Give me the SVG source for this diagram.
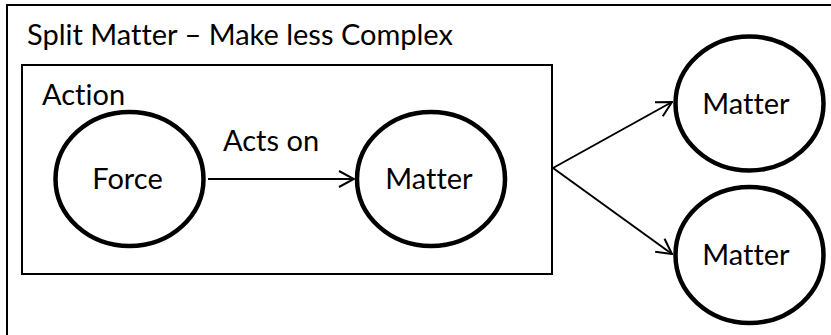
<svg xmlns="http://www.w3.org/2000/svg" width="831" height="335" viewBox="0 0 831 335">
  <style>
    .frame { fill: none; stroke: #000; stroke-width: 2; }
    .node { fill: #fff; stroke: #000; stroke-width: 4.5; }
    .label { font-family: Lato, "Open Sans", "Liberation Sans", sans-serif; font-size: 29px; fill: #000; font-variant-ligatures: none; }
    .mid { text-anchor: middle; }
    .edge { fill: none; stroke: #000; stroke-width: 2; marker-end: url(#openArrow); }
  </style>
  <defs>
    <marker id="openArrow" viewBox="0 0 18 18" refX="17" refY="9" markerWidth="18" markerHeight="18" markerUnits="userSpaceOnUse" orient="auto">
      <path d="M2,1 L17,9 L2,17" fill="none" stroke="#000" stroke-width="2"/>
    </marker>
  </defs>

  <rect x="0" y="0" width="831" height="335" fill="#fff"/>

  <!-- outer frame (runs off the right and bottom edges) -->
  <g id="split-frame">
    <rect class="frame" x="7" y="5" width="840" height="350"/>
    <text class="label" x="27" y="45">Split Matter – Make less Complex</text>
  </g>

  <!-- inner action box -->
  <g id="action-box">
    <rect class="frame" x="22" y="65" width="530" height="209"/>
    <text class="label" x="42" y="105">Action</text>
  </g>

  <g id="connectors">
    <line class="edge" x1="208" y1="179" x2="354" y2="179"/>
    <text class="label" x="223" y="151">Acts on</text>
    <line class="edge" x1="553" y1="168" x2="672" y2="102"/>
    <line class="edge" x1="553" y1="168" x2="672" y2="254"/>
  </g>

  <g id="force">
    <ellipse class="node" cx="129.5" cy="179" rx="74" ry="67"/>
    <text class="label mid" x="127.5" y="189">Force</text>
  </g>

  <g id="matter">
    <ellipse class="node" cx="431" cy="179" rx="74" ry="67"/>
    <text class="label mid" x="429" y="189">Matter</text>
  </g>

  <g id="matter-top">
    <ellipse class="node" cx="749.5" cy="103.5" rx="74" ry="67"/>
    <text class="label mid" x="746" y="114">Matter</text>
  </g>

  <g id="matter-bottom">
    <ellipse class="node" cx="749.5" cy="255" rx="74" ry="68"/>
    <text class="label mid" x="746" y="265">Matter</text>
  </g>
</svg>
